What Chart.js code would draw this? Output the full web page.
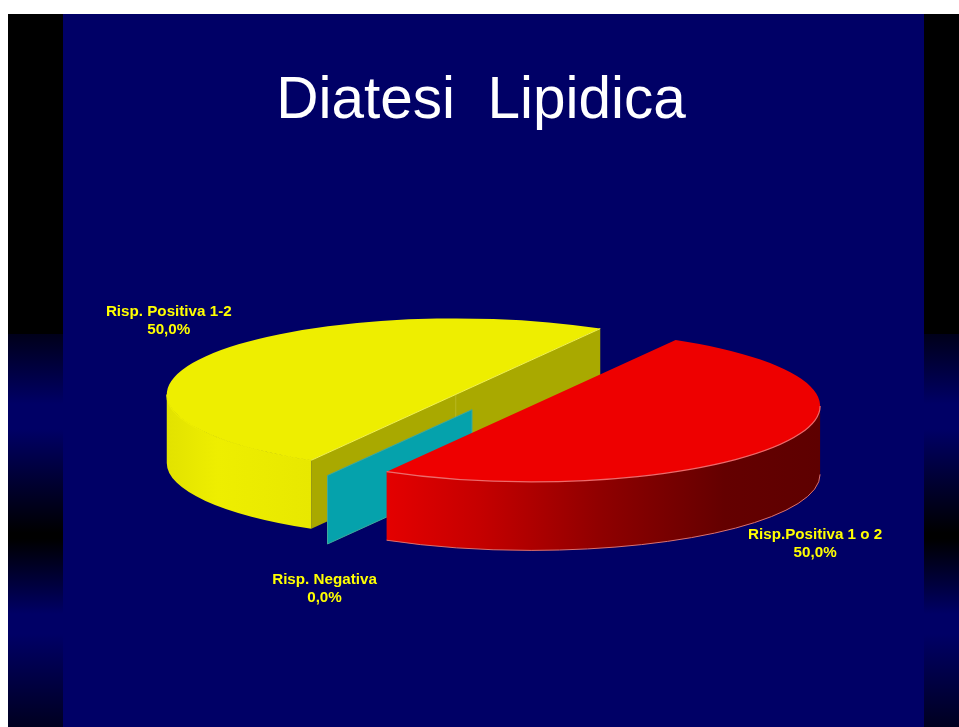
<!DOCTYPE html>
<html>
<head>
<meta charset="utf-8">
<script src="https://cdn.jsdelivr.net/npm/chart.js@4"></script>
<style>
html,body{margin:0;padding:0;background:#fff;width:959px;height:727px;overflow:hidden}
#slide{position:absolute;left:8px;top:14px;width:951px;height:713px;
 background:linear-gradient(to bottom,#000 0,#000 320px,#00001a 320px,#000066 390px,#000066 415px,#000 519px,#000 525px,#000066 600px,#000066 620px,#000020 713px)}
#panel{position:absolute;left:55px;top:0;width:861px;height:713px;background:#000066}
canvas{position:absolute;left:0;top:0}
</style>
</head>
<body>
<div id="slide"><div id="panel"></div></div>
<canvas id="c" width="959" height="727"></canvas>
<script>
const titleText = 'Diatesi  Lipidica';
const categories = ['Risp.Positiva 1 o 2', 'Risp. Negativa', 'Risp. Positiva 1-2'];
const values = [50, 0, 50];
const percentLabels = ['50,0%', '0,0%', '50,0%'];
const topColors = ['#ee0000', '#05a2ac', '#eeee00'];
const explode = [44, 42, 43];
const labelOffsets = [[284, 129], [-147.5, 170], [-287, -83]];
const drawOrder = [2, 1, 0];

const SQUASH = 0.263, DEPTH = 68.5, SCENE_X = 12;

function rimGradient(ctx, i, x0, x1) {
  const g = ctx.createLinearGradient(x0, 0, x1, 0);
  if (i === 0) {
    g.addColorStop(0, '#e40000'); g.addColorStop(0.22, '#c40000');
    g.addColorStop(0.5, '#8e0000'); g.addColorStop(0.78, '#640000'); g.addColorStop(1, '#5e0000');
  } else {
    g.addColorStop(0, '#e2e200'); g.addColorStop(0.35, '#eeee00'); g.addColorStop(1, '#e8e800');
  }
  return g;
}

const pie3d = {
  id: 'pie3d',
  beforeDatasetsDraw(chart) {
    const ctx = chart.ctx, arcs = chart.getDatasetMeta(0).data;
    drawOrder.forEach(i => {
      const arc = arcs[i], a = arc.outerRadius, b = a * SQUASH;
      const mid = (arc.startAngle + arc.endAngle) / 2;
      const cx = arc.x + SCENE_X + Math.cos(mid) * explode[i];
      const cy = arc.y + Math.sin(mid) * explode[i] * SQUASH;
      arc.$center = [cx, cy];
      const px = t => cx + Math.cos(t) * a, py = t => cy + Math.sin(t) * b;
      const straight = (t0, t1, color) => {
        ctx.fillStyle = color;
        ctx.beginPath();
        ctx.moveTo(px(t0), py(t0)); ctx.lineTo(px(t1), py(t1));
        ctx.lineTo(px(t1), py(t1) + DEPTH); ctx.lineTo(px(t0), py(t0) + DEPTH);
        ctx.closePath(); ctx.fill();
      };
      if (arc.circumference === 0) {
        ctx.fillStyle = topColors[i];
        ctx.beginPath();
        ctx.moveTo(cx, cy); ctx.lineTo(px(arc.startAngle), py(arc.startAngle));
        ctx.lineTo(px(arc.startAngle), py(arc.startAngle) + DEPTH); ctx.lineTo(cx, cy + DEPTH);
        ctx.closePath(); ctx.fill();
        ctx.strokeStyle = '#3fa89c'; ctx.lineWidth = 1; ctx.stroke();
        return;
      }
      if (i === 2) {
        straight(arc.startAngle, arc.endAngle, '#a9a900');
        ctx.strokeStyle = '#b8b820'; ctx.lineWidth = 1;
        ctx.beginPath(); ctx.moveTo(cx, cy); ctx.lineTo(cx, cy + DEPTH - 20); ctx.stroke();
      }
      const t0 = Math.max(arc.startAngle, arc.startAngle > Math.PI / 2 ? arc.startAngle : 0);
      const t1 = Math.min(arc.endAngle, Math.PI);
      ctx.fillStyle = rimGradient(ctx, i, px(t1), px(t0));
      ctx.beginPath();
      ctx.ellipse(cx, cy, a, b, 0, t0, t1);
      ctx.ellipse(cx, cy + DEPTH, a, b, 0, t1, t0, true);
      ctx.closePath(); ctx.fill();
      if (i === 0) {
        ctx.strokeStyle = '#d87070'; ctx.lineWidth = 1;
        ctx.beginPath(); ctx.ellipse(cx, cy + DEPTH, a, b, 0, t0, t1); ctx.stroke();
      }
      ctx.save();
      ctx.translate(cx, cy); ctx.scale(1, SQUASH); ctx.translate(-arc.x, -arc.y);
      arc.draw(ctx);
      ctx.restore();
      if (i === 0) {
        ctx.strokeStyle = '#ee6a6a'; ctx.lineWidth = 1.2;
        ctx.beginPath(); ctx.ellipse(cx, cy, a, b, 0, t0, t1); ctx.stroke();
      } else {
        ctx.strokeStyle = '#eeee00'; ctx.lineWidth = 1.2;
        ctx.beginPath(); ctx.ellipse(cx, cy, a, b, 0, t0, t1); ctx.stroke();
        ctx.strokeStyle = '#f4f450'; ctx.lineWidth = 1;
        ctx.beginPath(); ctx.moveTo(px(arc.startAngle), py(arc.startAngle)); ctx.lineTo(cx, cy);
        ctx.lineTo(px(arc.endAngle), py(arc.endAngle)); ctx.stroke();
      }
    });
    return false;
  },
  afterDraw(chart) {
    const ctx = chart.ctx, arcs = chart.getDatasetMeta(0).data;
    ctx.save();
    ctx.fillStyle = '#ffff00';
    ctx.font = 'bold 15.2px "Liberation Sans", Arial, sans-serif';
    ctx.textAlign = 'center'; ctx.textBaseline = 'middle';
    arcs.forEach((arc, i) => {
      const [cx, cy] = arc.$center;
      ctx.fillText(categories[i], cx + labelOffsets[i][0], cy + labelOffsets[i][1]);
      ctx.fillText(percentLabels[i], cx + labelOffsets[i][0], cy + labelOffsets[i][1] + 18);
    });
    ctx.restore();
  }
};

new Chart(document.getElementById('c'), {
  type: 'pie',
  data: { labels: categories, datasets: [{ data: values, backgroundColor: topColors, borderWidth: 0, radius: 289 }] },
  options: {
    responsive: false, animation: false, rotation: 30,
    layout: { padding: { left: 3, bottom: 74 } },
    plugins: {
      legend: { display: false }, tooltip: { enabled: false },
      title: { display: true, text: titleText, color: '#ffffff',
        font: { family: '"Liberation Sans", Arial, sans-serif', size: 58.5, weight: 'normal' },
        padding: { top: 67, bottom: 10 } }
    }
  },
  plugins: [pie3d]
});
</script>
</body>
</html>
